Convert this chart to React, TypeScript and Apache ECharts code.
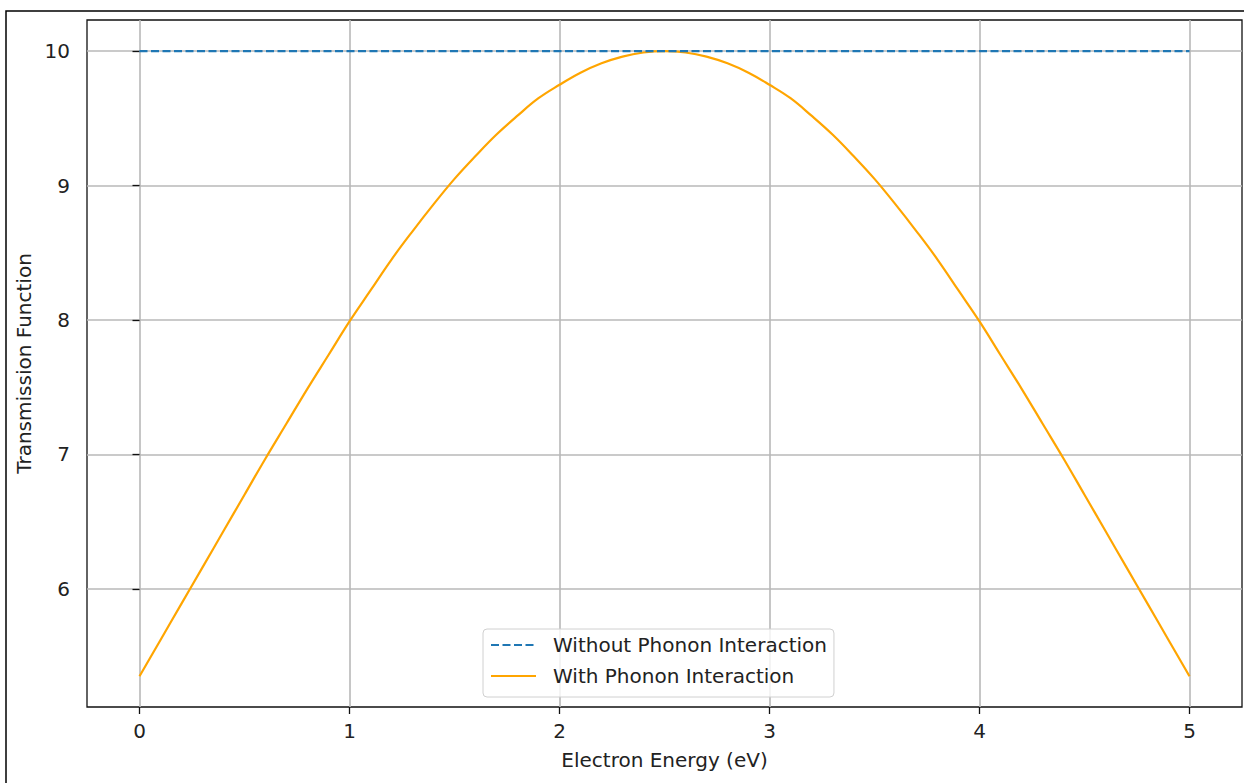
import React, { useEffect, useRef } from 'react';
import * as echarts from 'echarts';

const energy = [
  0, 0.1, 0.2, 0.3, 0.4, 0.5, 0.6, 0.7, 0.8, 0.9,
  1.0, 1.1, 1.2, 1.3, 1.4, 1.5, 1.6, 1.7, 1.8, 1.9,
  2.0, 2.1, 2.2, 2.3, 2.4, 2.5, 2.6, 2.7, 2.8, 2.9,
  3.0, 3.1, 3.2, 3.3, 3.4, 3.5, 3.6, 3.7, 3.8, 3.9,
  4.0, 4.1, 4.2, 4.3, 4.4, 4.5, 4.6, 4.7, 4.8, 4.9, 5.0,
];
const withPhonon = [
  5.35, 5.62, 5.89, 6.16, 6.43, 6.70, 6.97, 7.23, 7.49, 7.74,
  7.99, 8.22, 8.45, 8.66, 8.86, 9.05, 9.22, 9.38, 9.52, 9.65,
  9.75, 9.84, 9.91, 9.96, 9.99, 10.0, 9.99, 9.96, 9.91, 9.84,
  9.75, 9.65, 9.52, 9.38, 9.22, 9.05, 8.86, 8.66, 8.45, 8.22,
  7.99, 7.74, 7.49, 7.23, 6.97, 6.70, 6.43, 6.16, 5.89, 5.62, 5.35,
];
const flatEnergy = [0, 5];
const withoutPhonon = [10, 10];
const xTicks = [0, 1, 2, 3, 4, 5];
const yTicks = [6, 7, 8, 9, 10];
const seriesNames = ['Without Phonon Interaction', 'With Phonon Interaction'];
const xName = 'Electron Energy (eV)';
const yName = 'Transmission Function';

export default function App() {
  const ref = useRef<HTMLDivElement>(null);
  useEffect(() => {
    const chart = echarts.init(ref.current!, null, { renderer: 'svg' });
    const font = 'DejaVu Sans';
    const fs = 20;
    const txt = '#222';
    chart.setOption({
      animation: false,
      backgroundColor: '#fff',
      textStyle: { fontFamily: font },
      graphic: [
        {
          type: 'rect',
          silent: true,
          shape: { x: 6, y: 11, width: 1300, height: 900 },
          style: { fill: 'none', stroke: '#000', lineWidth: 1.5 },
        },
      ],
      grid: {
        left: 87, right: 2, top: 20, bottom: 76,
        show: true, borderColor: '#111', borderWidth: 1.3,
        backgroundColor: 'transparent',
        outerBoundsMode: 'none',
      },
      legend: {
        orient: 'vertical',
        left: 483, top: 629,
        padding: [6, 7, 11, 7],
        itemGap: 11,
        itemWidth: 45, itemHeight: 14,
        borderColor: '#d0d0d0', borderWidth: 1, borderRadius: 4,
        backgroundColor: 'rgba(255,255,255,0.8)',
        itemStyle: { opacity: 0 },
        textStyle: { fontFamily: font, fontSize: fs, color: txt, padding: [0, 0, 0, 12] },
        data: seriesNames,
      },
      xAxis: {
        type: 'value', min: -0.25, max: 5.25,
        name: xName, nameLocation: 'middle', nameGap: 43,
        nameTextStyle: { fontFamily: font, fontSize: fs, color: txt },
        axisLine: { show: false },
        axisTick: { show: true, customValues: xTicks, length: 7, lineStyle: { color: '#111', width: 1.3 } },
        axisLabel: { customValues: xTicks, fontFamily: font, fontSize: fs, color: txt, margin: 14 },
        splitLine: { show: true, lineStyle: { color: '#b8b8b8', width: 1.6 } },
      },
      yAxis: {
        type: 'value', min: 5.121, max: 10.232,
        name: yName, nameLocation: 'middle', nameGap: 53, nameRotate: 90,
        nameTextStyle: { fontFamily: font, fontSize: fs, color: txt },
        axisLine: { show: false },
        axisTick: { show: true, customValues: yTicks, length: 7, lineStyle: { color: '#111', width: 1.3 } },
        axisLabel: { customValues: yTicks, fontFamily: font, fontSize: fs, color: txt, margin: 17 },
        splitLine: { show: true, lineStyle: { color: '#b8b8b8', width: 1.6 } },
      },
      series: [
        {
          name: seriesNames[0],
          type: 'line',
          symbol: 'none',
          data: flatEnergy.map((e, i) => [e, withoutPhonon[i]]),
          lineStyle: { color: '#1f77b4', width: 2.2, type: [8, 3.5] },
          itemStyle: { color: '#1f77b4' },
          z: 3,
        },
        {
          name: seriesNames[1],
          type: 'line',
          symbol: 'none',
          smooth: 0.4,
          data: energy.map((e, i) => [e, withPhonon[i]]),
          lineStyle: { color: '#FFA500', width: 2.2 },
          itemStyle: { color: '#FFA500' },
          z: 2,
        },
      ],
    });
    return () => chart.dispose();
  }, []);
  return (
    <div
      ref={ref}
      style={{ position: 'fixed', left: 0, top: 0, width: 1244, height: 783, background: '#fff' }}
    />
  );
}
